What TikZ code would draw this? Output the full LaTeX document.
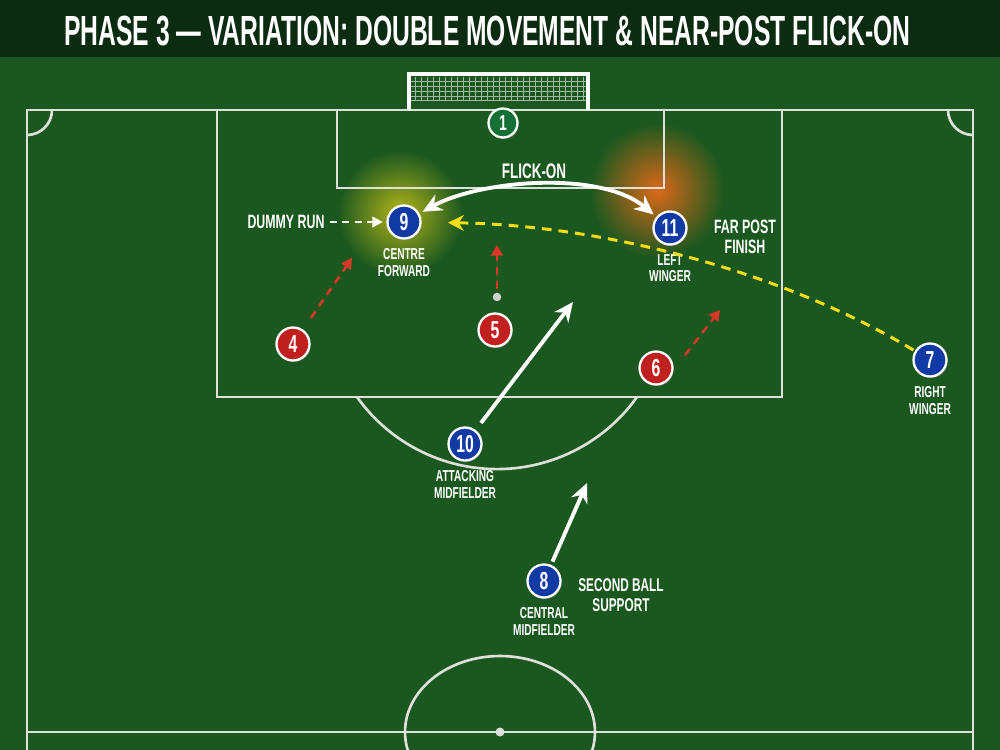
\documentclass[tikz,border=0pt]{standalone}
\usepackage{fontspec}
\setmainfont{Liberation Sans}[FakeStretch=0.64]
\newfontfamily\headfont{Liberation Sans}[FakeStretch=0.585]
\usepackage{tikz}
\usetikzlibrary{arrows.meta,positioning,shadows}

\definecolor{grass}{RGB}{27,88,31}
\definecolor{banner}{RGB}{11,44,16}
\definecolor{pitchline}{RGB}{222,224,218}
\definecolor{teamblue}{RGB}{18,58,165}
\definecolor{teamred}{RGB}{192,32,30}
\definecolor{keepergreen}{RGB}{20,112,52}
\definecolor{rungold}{RGB}{245,220,20}
\definecolor{runred}{RGB}{220,55,40}
\definecolor{glowyellow}{RGB}{180,180,25}
\definecolor{gloworange}{RGB}{220,105,25}

\begin{document}
\begin{tikzpicture}[
    x=0.02cm, y=-0.02cm,
    line/.style={draw=pitchline, line width=1.5pt},
    netline/.style={draw=pitchline!70!grass, line width=0.35pt},
    player/.style={circle, draw=white, line width=1.3pt, minimum size=0.66cm, inner sep=0pt, text=white, font=\fontsize{14}{14}\selectfont\bfseries, drop shadow={opacity=0.45, shadow xshift=0.6pt, shadow yshift=-1pt}},
    attacker/.style={player, fill=teamblue},
    defender/.style={player, fill=teamred},
    keeper/.style={player, fill=keepergreen, minimum size=0.58cm, font=\fontsize{12.5}{13}\selectfont\bfseries},
    role/.style={text=white, align=center, inner sep=1pt, font=\fontsize{9}{9.3}\selectfont\bfseries},
    note/.style={text=white, align=center, inner sep=1pt, font=\fontsize{11}{11}\selectfont\bfseries},
    run/.style={draw=white, line width=2.2pt, -{Stealth[length=11pt,width=10pt]}},
    dummy/.style={draw=white, line width=1.3pt, dash pattern=on 4pt off 3pt, -{Triangle[length=6pt,width=6pt]}},
    cover/.style={draw=runred, line width=1.4pt, dash pattern=on 4.5pt off 3.5pt, -{Triangle[length=6pt,width=6.5pt]}},
    cross/.style={draw=rungold, line width=1.7pt, dash pattern=on 5.5pt off 4pt, -{Stealth[length=9pt,width=9pt]}}
]
    \useasboundingbox (0,0) rectangle (1000,750);

    % Grass and title bar
    \fill[grass] (0,0) rectangle (1000,750);
    \fill[banner] (0,0) rectangle (1000,57);
    \node[anchor=west, text=white, inner sep=0pt, font=\headfont\fontsize{24}{26}\selectfont\bfseries] (heading) at (64,31)
        {PHASE 3 — VARIATION: DOUBLE MOVEMENT \& NEAR-POST FLICK-ON};

    % Target zones
    \shade[inner color=glowyellow, outer color=grass] (400,213) circle (1.25cm);
    \shade[inner color=gloworange, outer color=grass] (657,190) circle (1.35cm);

    % Pitch markings
    \draw[line] (27,750) -- (27,110) -- (973,110) -- (973,750);
    \draw[line] (217,110) rectangle (782,397);
    \draw[line] (337,110) rectangle (664,188);
    \draw[line] (637,397) arc[start angle=-35.5, end angle=-144.5, radius=3.44cm];
    \draw[line] (52,110) arc[start angle=0, end angle=-90, radius=0.5cm];
    \draw[line] (948,110) arc[start angle=180, end angle=270, radius=0.5cm];
    \draw[line] (27,732) -- (973,732);
    \begin{scope}
        \clip (0,0) rectangle (1000,750);
        \draw[line] (500,732) ellipse [x radius=1.9cm, y radius=1.52cm];
    \end{scope}
    \fill[pitchline] (500,732) circle (0.09cm);
    \node[circle, fill=pitchline!85!gray, minimum size=0.17cm, inner sep=0pt] (spot) at (497,297) {};

    % Goal and net
    \foreach \gx in {415,421,...,583}
        \draw[netline] (\gx,77) -- (\gx,100);
    \foreach \gy in {81,86,...,100}
        \draw[netline] (411,\gy) -- (586,\gy);
    \draw[netline] (411,100) -- (586,100);
    \draw[draw=white, line width=2.2pt] (409,110) -- (409,74) -- (588,74) -- (588,110);

    % Players
    \node[keeper] (p1) at (503,123) {1};
    \node[attacker] (p9) at (404,222) {9};
    \node[attacker] (p11) at (670,228) {11};
    \node[attacker] (p7) at (930,360) {7};
    \node[attacker] (p10) at (465,444) {10};
    \node[attacker] (p8) at (544,581) {8};
    \node[defender] (p4) at (293,344) {4};
    \node[defender] (p5) at (495,330) {5};
    \node[defender] (p6) at (656,368) {6};

    % Roles
    \node[role, below=4pt of p9] (r9) {CENTRE\\FORWARD};
    \node[role, below=4pt of p11] (r11) {LEFT\\WINGER};
    \node[role, below=4pt of p7] (r7) {RIGHT\\WINGER};
    \node[role, below=4pt of p10] (r10) {ATTACKING\\MIDFIELDER};
    \node[role, below=4pt of p8] (r8) {CENTRAL\\MIDFIELDER};

    % Notes
    \node[note] (dummyrun) at (286,222) {DUMMY RUN};
    \node[note, font=\fontsize{12}{12}\selectfont\bfseries] (flickon) at (534,171) {FLICK-ON};
    \node[note] (farpost) at (745,237) {FAR POST\\FINISH};
    \node[note, font=\fontsize{10.5}{11}\selectfont\bfseries] (secondball) at (621,595) {SECOND BALL\\SUPPORT};

    % Run targets
    \coordinate (t4) at (352,258);
    \coordinate (t5) at (497,245);
    \coordinate (s6) at (685,355);
    \coordinate (t6) at (720,310);
    \coordinate (t10) at (573,302);
    \coordinate (t8) at (587,483);

    % Delivery and flick-on
    \draw[cross, shorten >=15pt, shorten <=1pt] (p7) .. controls (780,270) and (600,225) .. (p9);
    \draw[run, {Stealth[length=11pt,width=10pt]}-{Stealth[length=11pt,width=10pt]}, shorten <=2pt, shorten >=2pt]
        (p9) .. controls (480,180) and (600,170) .. (p11);
    \draw[dummy, shorten <=2pt, shorten >=2pt] (dummyrun.east) -- (p9.west);

    % Supporting runs
    \draw[run, shorten <=5pt] (p10) -- (t10);
    \draw[run, shorten <=2pt] (p8) -- (t8);

    % Defensive reactions
    \draw[cover, shorten <=8pt] (p4) -- (t4);
    \draw[cover, shorten <=2pt] (spot) -- (t5);
    \draw[cover] (s6) -- (t6);

\end{tikzpicture}
\end{document}
